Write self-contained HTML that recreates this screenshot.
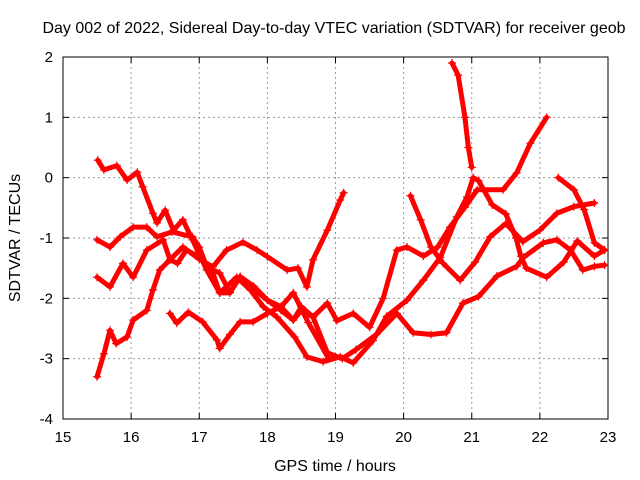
<!DOCTYPE html>
<html><head><meta charset="utf-8"><style>
body{margin:0;background:#fff;}
svg{display:block;font-family:"Liberation Sans",sans-serif;}
</style></head><body>
<svg id="chart" width="640" height="480">
<text x="334" y="33" font-size="16" text-anchor="middle">Day 002 of 2022, Sidereal Day-to-day VTEC variation (SDTVAR) for receiver geob</text>
<text x="335" y="471" font-size="16" text-anchor="middle">GPS time / hours</text>
<text x="0" y="0" font-size="16" text-anchor="middle" transform="translate(20,238) rotate(-90)">SDTVAR / TECUs</text>
<g id="grid"></g><g id="series"></g><g id="axes"></g>
</svg>
<script>
const xTicks=[15,16,17,18,19,20,21,22,23];
const yTicks=[-4,-3,-2,-1,0,1,2];
const seriesA=[[15.51,0.29],[15.6,0.13],[15.79,0.2],[15.94,-0.04],[16.09,0.09],[16.17,-0.15],[16.32,-0.59],[16.38,-0.75],[16.5,-0.54],[16.62,-0.87],[16.76,-0.7],[16.9,-1.03],[17.11,-1.53],[17.3,-1.91],[17.55,-1.65],[17.75,-1.86],[17.94,-2.14],[18.14,-2.31],[18.4,-2.64],[18.58,-2.97],[18.82,-3.05],[19.07,-2.97],[19.26,-3.07],[19.55,-2.7],[19.75,-2.3],[20.05,-2.03],[20.29,-1.7],[20.54,-1.32],[20.78,-0.65],[20.93,-0.32],[21.02,0.0],[21.1,-0.05],[21.3,-0.45],[21.5,-0.6],[21.65,-1.0],[21.72,-1.3],[21.8,-1.5],[22.1,-1.65],[22.35,-1.4],[22.55,-1.05],[22.8,-1.3],[22.95,-1.2]];
const seriesB=[[15.5,-1.03],[15.69,-1.15],[15.84,-0.98],[16.03,-0.82],[16.23,-0.82],[16.38,-0.98],[16.6,-0.9],[16.9,-0.98],[17.0,-1.15],[17.11,-1.48],[17.3,-1.58],[17.45,-1.9],[17.6,-1.64],[17.8,-1.85],[18.0,-2.03],[18.2,-2.2],[18.38,-2.36],[18.5,-2.2],[18.67,-2.31],[18.88,-2.9],[19.1,-3.0],[19.3,-2.85],[19.6,-2.6],[19.9,-2.25],[20.14,-2.57],[20.4,-2.6],[20.63,-2.57],[20.87,-2.08],[21.1,-1.97],[21.37,-1.63],[21.66,-1.47],[21.76,-1.32],[22.05,-1.08],[22.25,-1.03],[22.45,-1.2],[22.63,-1.53],[22.8,-1.47],[22.95,-1.45]];
const seriesC=[[15.5,-1.65],[15.69,-1.81],[15.88,-1.42],[16.03,-1.65],[16.23,-1.2],[16.47,-1.03],[16.57,-1.36],[16.76,-1.15],[17.0,-1.35],[17.2,-1.48],[17.4,-1.2],[17.64,-1.07],[17.85,-1.2],[18.0,-1.31],[18.29,-1.53],[18.45,-1.5],[18.58,-1.81],[18.67,-1.36],[18.88,-0.87],[19.07,-0.37],[19.12,-0.25]];
const seriesD=[[15.5,-3.3],[15.6,-2.92],[15.69,-2.53],[15.78,-2.75],[15.94,-2.64],[16.03,-2.36],[16.23,-2.2],[16.32,-1.86],[16.42,-1.53],[16.57,-1.36],[16.68,-1.42],[16.81,-1.2],[17.0,-1.31],[17.2,-1.58],[17.3,-1.91],[17.45,-1.91],[17.6,-1.64],[17.8,-1.8],[18.0,-2.03],[18.2,-2.14],[18.38,-2.36],[18.5,-2.14],[18.67,-2.31],[18.88,-2.08],[19.02,-2.37],[19.26,-2.25],[19.5,-2.48],[19.7,-2.0],[19.9,-1.2],[20.05,-1.15],[20.29,-1.3],[20.5,-1.15],[20.68,-0.82],[20.9,-0.49],[21.08,-0.2],[21.46,-0.2],[21.66,0.08],[21.86,0.57],[22.1,1.0]];
const seriesE=[[16.57,-2.25],[16.67,-2.41],[16.84,-2.23],[17.05,-2.39],[17.26,-2.69],[17.3,-2.83],[17.45,-2.6],[17.6,-2.39],[17.79,-2.39],[18.0,-2.25],[18.2,-2.14],[18.38,-1.91],[18.6,-2.4],[18.9,-3.0]];
const seriesF=[[20.1,-0.3],[20.25,-0.7],[20.4,-1.15],[20.58,-1.42],[20.83,-1.7],[21.05,-1.4],[21.27,-0.98],[21.5,-0.76],[21.75,-1.06],[22.0,-0.87],[22.25,-0.59],[22.5,-0.48],[22.8,-0.42]];
const seriesG=[[20.71,1.9],[20.8,1.7],[20.9,1.0],[20.95,0.5],[21.0,0.17]];
const seriesH=[[22.27,0.0],[22.5,-0.2],[22.65,-0.53],[22.8,-1.08],[22.95,-1.2]];
const allSeries=[seriesA,seriesB,seriesC,seriesD,seriesE,seriesF,seriesG,seriesH];
const X0=63,X1=608,Y0=419,Y1=57;
function xs(v){return X0+(v-15)/8*(X1-X0);}
function ys(v){return Y0-(v+4)/6*(Y0-Y1);}
const NS="http://www.w3.org/2000/svg";
function mk(t,a,p){const e=document.createElementNS(NS,t);for(const k in a)e.setAttribute(k,a[k]);p.appendChild(e);return e;}
const grid=document.getElementById('grid'),axes=document.getElementById('axes'),ser=document.getElementById('series');
xTicks.forEach(t=>{const x=xs(t);
 if(t>15&&t<23){const g=mk('line',{x1:x,x2:x,y1:Y1,y2:Y0,stroke:'#999','stroke-dasharray':'2,3'},grid);
 
 }
 mk('line',{x1:x,x2:x,y1:Y0,y2:Y0-6,stroke:'#000'},axes);mk('line',{x1:x,x2:x,y1:Y1,y2:Y1+6,stroke:'#000'},axes);
 const l=mk('text',{x:x,y:442,'font-size':15,'text-anchor':'middle'},axes);l.textContent=t;
 
 });
yTicks.forEach(t=>{const y=ys(t);
 if(t>-4&&t<2){const g=mk('line',{x1:X0,x2:X1,y1:y,y2:y,stroke:'#999','stroke-dasharray':'2,3'},grid);
 
 }
 mk('line',{x1:X0,x2:X0+6,y1:y,y2:y,stroke:'#000'},axes);mk('line',{x1:X1,x2:X1-6,y1:y,y2:y,stroke:'#000'},axes);
 const l=mk('text',{x:53,y:y+5,'font-size':15,'text-anchor':'end'},axes);l.textContent=t;
 
 });
const frame=mk('rect',{x:X0,y:Y1,width:X1-X0,height:Y0-Y1,fill:'none',stroke:'#000'},axes);


allSeries.forEach((s,i)=>{
 const g=mk('g',{},ser);
 
 
 mk('polyline',{points:s.map(p=>xs(p[0])+','+ys(p[1])).join(' '),fill:'none',stroke:'#f00','stroke-width':5,'stroke-linejoin':'round','stroke-linecap':'round'},g);
 s.forEach(p=>{const x=xs(p[0]),y=ys(p[1]);
  const m=mk('path',{d:`M${x-4},${y}H${x+4}M${x},${y-4}V${y+4}`,stroke:'#f00','stroke-width':1.2},g);
  
  });
});
</script>
</body></html>
